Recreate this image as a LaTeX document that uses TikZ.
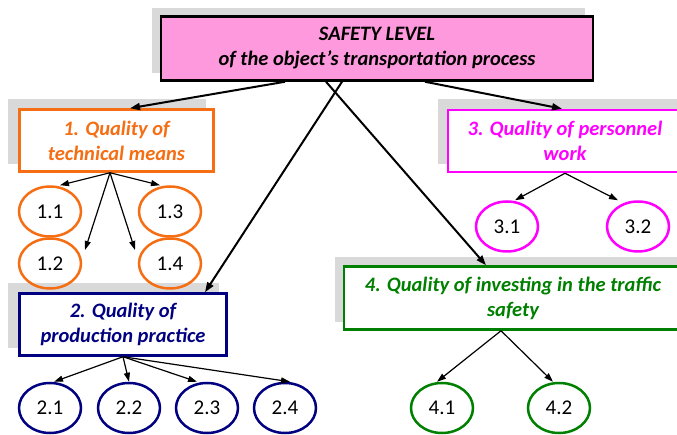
\documentclass[tikz,border=0pt]{standalone}
\usepackage{fontspec}
\setmainfont{Carlito}
\usetikzlibrary{arrows.meta,shapes.geometric,calc}
\definecolor{pinkfill}{RGB}{255,153,221}
\definecolor{shadowgrey}{RGB}{217,217,217}
\definecolor{orng}{RGB}{245,110,20}
\definecolor{mgnt}{RGB}{255,0,255}
\definecolor{navy}{RGB}{0,0,128}
\definecolor{grn}{RGB}{0,128,0}
\tikzset{
  x=1pt, y=-1pt,
  headbox/.style={draw, line width=2.5pt, align=center, inner sep=0pt,
    font=\fontsize{20.5}{25}\selectfont\bfseries\itshape},
  shade/.style={fill=shadowgrey, draw=none},
  leaf/.style={ellipse, draw, line width=2.5pt, minimum width=62pt, minimum height=50pt,
    inner sep=0pt, font=\fontsize{21}{24}\selectfont, text=black},
  mainarr/.style={line width=2pt, -{Triangle[length=10pt,width=7pt]}},
  subarr/.style={line width=1.2pt, -{Triangle[length=9pt,width=6pt]}},
}
\begin{document}
\begin{tikzpicture}
\useasboundingbox (0,0) rectangle (677,435);
\clip (0,0) rectangle (677,435);
% shadows
\fill[shade] (152,8) rectangle (585,73);
\fill[shade] (8,99) rectangle (206,164);
\fill[shade] (438,99) rectangle (677,164);
\fill[shade] (8,283) rectangle (219,348);
\fill[shade] (335,257) rectangle (677,322);
% boxes
\node[headbox, fill=pinkfill, minimum width=432pt, minimum height=64pt] (top) at (377,48.5)
  {SAFETY LEVEL\\of the object’s transportation process};
\node[headbox, draw=orng, text=orng, fill=white, minimum width=194pt, minimum height=62pt] (b1) at (116.5,140.5)
  {1. Quality of\\technical means};
\node[headbox, draw=mgnt, text=mgnt, fill=white, minimum width=234pt, minimum height=62pt] (b3) at (565,141)
  {3. Quality of personnel\\work};
\node[headbox, draw=navy, text=navy, fill=white, minimum width=207pt, minimum height=62pt] (b2) at (123,324.5)
  {2. Quality of\\production practice};
\node[headbox, draw=grn, text=grn, fill=white, minimum width=338pt, minimum height=63pt] (b4) at (513,298)
  {4. Quality of investing in the traffic\\safety};
% leaves
\node[leaf, draw=orng] (l11) at (50,211.5) {1.1};
\node[leaf, draw=orng] (l12) at (50,263.5) {1.2};
\node[leaf, draw=orng] (l13) at (170,211.5) {1.3};
\node[leaf, draw=orng] (l14) at (170,263.5) {1.4};
\node[leaf, draw=mgnt] (l31) at (507,226.5) {3.1};
\node[leaf, draw=mgnt] (l32) at (638,226.5) {3.2};
\node[leaf, draw=navy] (l21) at (50,408) {2.1};
\node[leaf, draw=navy] (l22) at (129,408) {2.2};
\node[leaf, draw=navy] (l23) at (207,408) {2.3};
\node[leaf, draw=navy] (l24) at (285,408) {2.4};
\node[leaf, draw=grn] (l41) at (442,408) {4.1};
\node[leaf, draw=grn] (l42) at (559,408) {4.2};
% main arrows
\draw[mainarr] (top.south -| 285,0) -- (b1.north -| 130,0);
\draw[mainarr] (top.south -| 425,0) -- (b3.north -| 562,0);
\draw[mainarr] (top.south -| 342,0) -- (b2.north -| 205,0);
\draw[mainarr] (top.south -| 326,0) -- (b4.north -| 486,0);
% sub arrows
\coordinate (s1) at (b1.south -| 110,0);
\draw[subarr] (s1) -- (l11.north -| 60,0);
\draw[subarr] (s1) -- (l13.north -| 160,0);
\draw[subarr] (s1) -- (85,250);
\draw[subarr] (s1) -- (135,250);
\coordinate (s3) at (b3.south -| 565,0);
\draw[subarr] (s3) -- (l31.north -| 515,0);
\draw[subarr] (s3) -- (l32.north -| 618,0);
\coordinate (s2) at (b2.south -| 123,0);
\draw[subarr] (s2) -- (l21.north -| 54,0);
\draw[subarr] (s2) -- (l22.north);
\draw[subarr] (s2) -- (l23.north -| 197,0);
\draw[subarr] (s2) -- (l24.north -| 290,0);
\coordinate (s4) at (b4.south -| 501,0);
\draw[subarr] (s4) -- (l41.north -| 437,0);
\draw[subarr] (s4) -- (l42.north -| 553,0);
\end{tikzpicture}
\end{document}
